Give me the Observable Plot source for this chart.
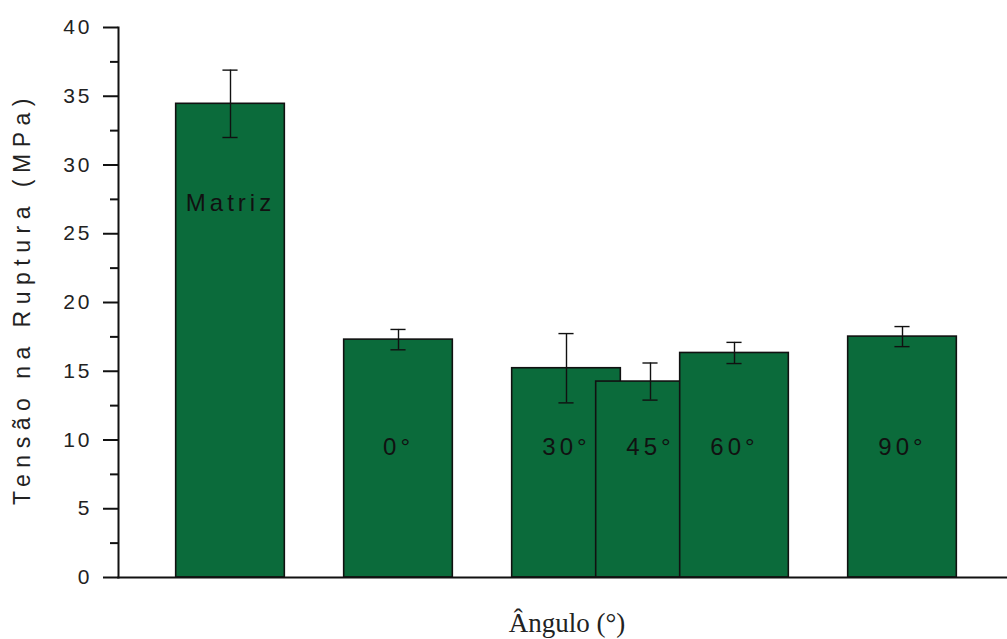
<!DOCTYPE html>
<html>
<head>
<meta charset="utf-8">
<script src="https://cdn.jsdelivr.net/npm/d3@7"></script>
<script src="https://cdn.jsdelivr.net/npm/@observablehq/plot@0.6"></script>
<style>
  html, body { margin: 0; padding: 0; background: #fff; }
  #chart svg { display: block; }
</style>
</head>
<body>
<div id="chart"></div>
<script>
// Data
const categories = ["Matriz", "0°", "30°", "45°", "60°", "90°"];
const angles = [-30, 0, 30, 45, 60, 90];
const tensao = [34.45, 17.3, 15.22, 14.25, 16.33, 17.52];
const desvio = [2.45, 0.74, 2.52, 1.35, 0.77, 0.73];
const yTicks = [0, 5, 10, 15, 20, 25, 30, 35, 40];
const yMinorTicks = [2.5, 7.5, 12.5, 17.5, 22.5, 27.5, 32.5, 37.5];

const data = categories.map((c, i) => ({
  cat: c, x: angles[i], v: tensao[i], e: desvio[i]
}));

const halfW = 9.7;   // half bar width in x units
const capW = 1.35;   // half cap width in x units
const green = "#0b6b3b";

const plot = Plot.plot({
  width: 1007,
  height: 639,
  marginLeft: 118,
  marginRight: 0,
  marginTop: 27,
  marginBottom: 62,
  style: { fontFamily: "'Liberation Sans', Arial, sans-serif", background: "#fff" },
  x: { domain: [-50, 108.75], axis: null },
  y: { domain: [0, 40], axis: null },
  marks: [
    Plot.rectY(data, {
      x1: d => d.x - halfW, x2: d => d.x + halfW, y1: 0, y2: "v",
      fill: green, stroke: "#111", strokeWidth: 1.6
    }),
    Plot.ruleX(data, { x: "x", y1: d => d.v - d.e, y2: d => d.v + d.e, stroke: "#111", strokeWidth: 1.4 }),
    Plot.ruleY(data, { y: d => d.v + d.e, x1: d => d.x - capW, x2: d => d.x + capW, stroke: "#111", strokeWidth: 1.4 }),
    Plot.ruleY(data, { y: d => d.v - d.e, x1: d => d.x - capW, x2: d => d.x + capW, stroke: "#111", strokeWidth: 1.4 }),
    // in-bar labels
    Plot.text(data.filter(d => d.x < 0), {
      x: "x", y: d => d.v - 7.2, text: "cat", fontSize: 24, fill: "#111", textAnchor: "middle"
    }),
    Plot.text(data.filter(d => d.x >= 0), {
      x: "x", y: () => 9.5, text: "cat", fontSize: 24, fill: "#111", textAnchor: "middle"
    }),
    // axes
    Plot.axisY({ ticks: yMinorTicks, tickSize: 8, text: null, label: null, strokeWidth: 2, stroke: "#111" }),
    Plot.axisY({ ticks: yTicks, tickSize: 15, tickPadding: 11, fontSize: 21, strokeWidth: 2, stroke: "#111", color: "#222", label: null }),
    Plot.frame({ anchor: "left", stroke: "#111", strokeWidth: 2 }),
    Plot.frame({ anchor: "bottom", stroke: "#111", strokeWidth: 2 }),
    // axis titles
    Plot.text(["Tensão na Ruptura (MPa)"], {
      frameAnchor: "left", textAnchor: "middle", rotate: -90, dx: -96, dy: -4, fontSize: 23, fill: "#222", text: d => d
    }),
    Plot.text(["Ângulo (°)"], {
      frameAnchor: "bottom", lineAnchor: "bottom", dy: 54, dx: 4, fontSize: 27, fill: "#222",
      fontFamily: "'Liberation Serif', 'Times New Roman', serif", text: d => d
    })
  ]
});

document.getElementById("chart").appendChild(plot);

// letter spacing to mimic the original's wide sans-serif type
const textGroups = plot.querySelectorAll('g[aria-label="text"]');
textGroups.forEach((g, i) => {
  if (i < 2) g.setAttribute("letter-spacing", "4");
  if (i === 2) g.setAttribute("letter-spacing", "6.5");
});
plot.querySelectorAll('g[aria-label="y-axis tick label"]').forEach(g => g.setAttribute("letter-spacing", "3"));
</script>
</body>
</html>
